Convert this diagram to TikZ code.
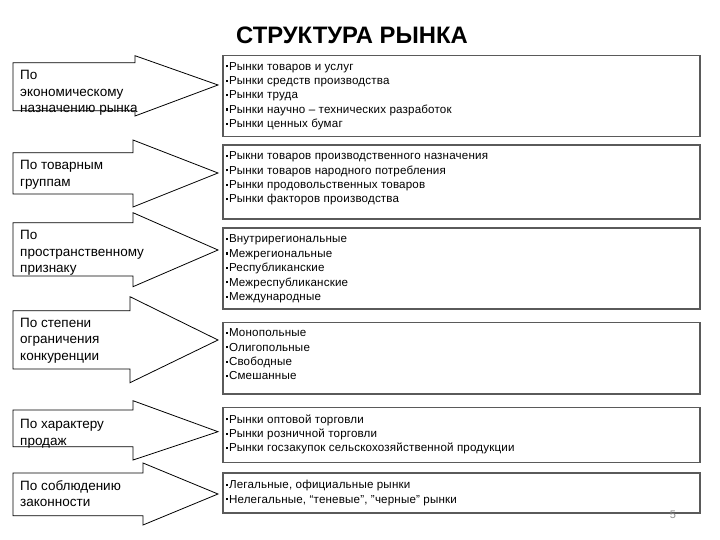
\documentclass[tikz,border=0pt]{standalone}
\usepackage{fontspec}
\setmainfont{Liberation Sans}
\definecolor{boxline}{RGB}{90,90,90}
\definecolor{pagenum}{RGB}{140,140,140}
\tikzset{
  arrowshape/.style={draw=black, line width=0.8pt, fill=white},
  listbox/.style={draw=boxline, line width=1.4pt},
  lbl/.style={anchor=north west, inner sep=0pt, align=left, font=\fontsize{13.5}{16.7}\selectfont},
  items/.style={anchor=north west, inner sep=0pt, align=left, font=\fontsize{11.6}{14.4}\selectfont\addfontfeature{LetterSpace=1.5}},
}
\newcommand{\bl}{\raisebox{2.8pt}{\rule{2.1pt}{2.1pt}}\hspace{0.7pt}}
\begin{document}
\begin{tikzpicture}[x=1pt,y=-1pt]
\useasboundingbox (0,0) rectangle (720,540);
\fill[white] (0,0) rectangle (720,540);

\node (title) at (352,35.5) {\fontsize{23.8}{28}\selectfont\bfseries СТРУКТУРА РЫНКА};

% #1 top, #2 bottom, #3 headx, #4 headtop, #5 headbottom, #6 tipy
\newcommand{\myarrow}[6]{%
  \draw[arrowshape] (13,#1) -- (#3,#1) -- (#3,#4) -- (218,#6) -- (#3,#5) -- (#3,#2) -- (13,#2) -- cycle;}

\myarrow{62.7}{110.7}{135}{55.7}{116}{85}
\myarrow{152.7}{194}{133}{140}{207}{173}
\myarrow{222.7}{276}{133}{212.7}{286.7}{250}
\myarrow{310.7}{369}{130}{296.7}{382.7}{340}
\myarrow{410}{446.7}{133}{400.7}{460}{431.7}
\myarrow{473}{515.7}{143}{463}{525}{494}

\node[lbl] (l1) at (20,70) {По\\экономическому\\назначению рынка};
\node[lbl] (l2) at (20,160) {По товарным\\группам};
\node[lbl] (l3) at (20,230) {По\\пространственному\\признаку};
\node[lbl] (l4) at (20,317.6) {По степени\\ограничения\\конкуренции};
\node[lbl] (l5) at (20,419) {По характеру\\продаж};
\node[lbl] (l6) at (20,480) {По соблюдению\\законности};

% boxes
\draw[listbox] (223,55.5) rectangle (700,136.5);
\draw[listbox] (223,145) rectangle (700,219);
\draw[listbox] (223,228) rectangle (700,309);
\draw[listbox] (223,322.7) rectangle (700,394);
\draw[listbox] (223,407.7) rectangle (700,462.7);
\draw[listbox] (223,473) rectangle (700,513);

\node[items] (b1) at (226,62) {\bl Рынки товаров и услуг\\\bl Рынки средств производства\\\bl Рынки труда\\\bl Рынки научно – технических разработок\\\bl Рынки ценных бумаг};
\node[items] (b2) at (226,151.5) {\bl Рыкни товаров производственного назначения\\\bl Рынки товаров народного потребления\\\bl Рынки продовольственных товаров\\\bl Рынки факторов производства};
\node[items] (b3) at (226,234.8) {\bl Внутрирегиональные\\\bl Межрегиональные\\\bl Республиканские\\\bl Межреспубликанские\\\bl Международные};
\node[items] (b4) at (226,328.5) {\bl Монопольные\\\bl Олигопольные\\\bl Свободные\\\bl Смешанные};
\node[items] (b5) at (226,414.3) {\bl Рынки оптовой торговли\\\bl Рынки розничной торговли\\\bl Рынки госзакупок сельскохозяйственной продукции};
\node[items] (b6) at (226,480) {\bl Легальные, официальные рынки\\\bl Нелегальные, “теневые”, ”черные” рынки};

\node[text=pagenum, font=\fontsize{11}{12}\selectfont] (pg) at (673,515) {5};
\end{tikzpicture}
\end{document}
